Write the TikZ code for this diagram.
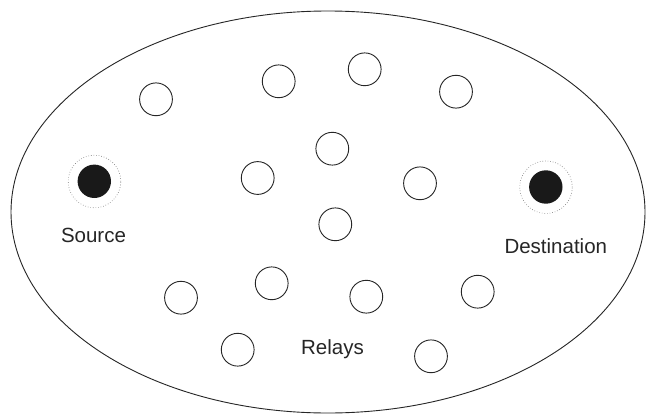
\documentclass[tikz,border=0pt]{standalone}
\usepackage{fontspec}
\setmainfont{Liberation Sans}
\begin{document}
\begin{tikzpicture}[x=1pt,y=-1pt,
  relay/.style={circle,draw=black!85,line width=0.9pt,minimum size=32.8pt,inner sep=0pt},
  terminal/.style={circle,fill=black!90,minimum size=33.4pt,inner sep=0pt},
  halo/.style={circle,draw=black!55,dotted,line width=0.6pt,minimum size=52.6pt,inner sep=0pt},
  lbl/.style={font=\fontsize{20.5}{24}\selectfont,text=black!85,anchor=base,inner sep=0pt}]
\useasboundingbox (0,0) rectangle (647,415);
\fill[white] (0,0) rectangle (647,415);
% region
\draw[black!85,line width=0.9pt] (328,212) ellipse [x radius=317pt, y radius=201pt];
% relays
\node[relay] (r1)  at (156,99.3) {};
\node[relay] (r2)  at (278.7,81.3) {};
\node[relay] (r3)  at (364.7,69.3) {};
\node[relay] (r4)  at (456,91.7) {};
\node[relay] (r5)  at (332.3,148.7) {};
\node[relay] (r6)  at (257.7,178) {};
\node[relay] (r7)  at (420,183.3) {};
\node[relay] (r8)  at (335.3,224.3) {};
\node[relay] (r9)  at (181,297.7) {};
\node[relay] (r10) at (271.7,283.3) {};
\node[relay] (r11) at (366.3,296.7) {};
\node[relay] (r12) at (477.7,291.7) {};
\node[relay] (r13) at (237.7,349.7) {};
\node[relay] (r14) at (431,356.3) {};
% source and destination
\node[halo] (srch) at (94.5,181.5) {};
\node[terminal] (src) at (94.3,181.3) {};
\node[halo] (dsth) at (546,187.2) {};
\node[terminal] (dst) at (545.8,187) {};
% labels
\node[lbl] (srclbl) at (93.5,242) {Source};
\node[lbl] (dstlbl) at (555.8,253.3) {Destination};
\node[lbl] (rlbl) at (332.5,354) {Relays};
\end{tikzpicture}
\end{document}
